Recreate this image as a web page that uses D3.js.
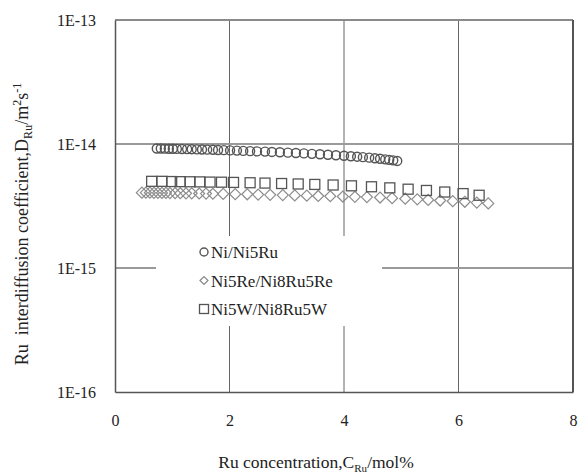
<!DOCTYPE html>
<html>
<head>
<meta charset="utf-8">
<script src="https://cdn.jsdelivr.net/npm/d3@7"></script>
<style>
  body { margin: 0; background: #fff; }
  svg { display: block; font-family: "Liberation Serif", "DejaVu Serif", serif; }
  svg text { font-family: "Liberation Serif", "DejaVu Serif", serif; }
</style>
</head>
<body>
<svg id="chart" width="578" height="473"></svg>
<script>
// Ni/Ni5Ru (circles)
var niX = [0.73,0.80,0.87,0.94,1.01,1.08,1.17,1.26,1.34,1.43,1.52,1.61,1.71,1.80,1.90,2.01,2.13,2.24,2.36,2.48,
           2.62,2.74,2.88,3.02,3.16,3.30,3.44,3.58,3.72,3.86,4.00,4.12,4.23,4.33,4.44,4.54,4.63,4.72,4.79,4.86,4.93];
var niD = [9.2,9.2,9.18,9.16,9.15,9.13,9.12,9.1,9.08,9.05,9.03,9.0,8.98,8.95,8.92,8.88,8.85,8.8,8.76,8.72,
           8.68,8.63,8.58,8.52,8.46,8.4,8.33,8.26,8.19,8.12,8.04,7.97,7.9,7.83,7.76,7.68,7.6,7.52,7.45,7.38,7.3];
// Ni5Re/Ni8Ru5Re (diamonds)
var reX = [0.47,0.54,0.61,0.68,0.75,0.82,0.89,0.96,1.05,1.14,1.24,1.34,1.47,1.59,1.71,1.89,2.10,2.31,2.50,
           2.71,2.93,3.14,3.35,3.55,3.76,3.98,4.19,4.40,4.63,4.84,5.07,5.28,5.47,5.68,5.90,6.11,6.32,6.52];
var reD = [4.05,4.05,4.05,4.04,4.04,4.03,4.03,4.02,4.02,4.01,4.0,4.0,3.99,3.98,3.97,3.96,3.94,3.93,3.91,
           3.89,3.87,3.85,3.83,3.81,3.79,3.77,3.75,3.73,3.7,3.66,3.62,3.58,3.54,3.5,3.46,3.42,3.37,3.32];
// Ni5W/Ni8Ru5W (squares)
var wX = [0.64,0.82,0.99,1.14,1.31,1.48,1.66,1.86,2.07,2.36,2.62,2.91,3.20,3.49,3.81,4.13,4.48,4.80,5.12,5.44,5.76,6.08,6.36];
var wD = [5.0,5.0,4.98,4.97,4.96,4.95,4.93,4.92,4.9,4.87,4.84,4.8,4.76,4.72,4.67,4.6,4.52,4.43,4.32,4.22,4.1,3.98,3.86];
var dUnit = 1e-15;

var xTicks = [0, 2, 4, 6, 8];
var yTicks = [1e-16, 1e-15, 1e-14, 1e-13];
var yTickLabels = ["1E-16", "1E-15", "1E-14", "1E-13"];
var seriesNames = ["Ni/Ni5Ru", "Ni5Re/Ni8Ru5Re", "Ni5W/Ni8Ru5W"];

var svg = d3.select("#chart");
var x = d3.scaleLinear().domain([0, 8]).range([115, 573]);
var y = d3.scaleLog().domain([1e-16, 1e-13]).range([392, 20]);

// grid
svg.append("g").selectAll("line").data(xTicks.slice(1, 4)).enter().append("line")
  .attr("x1", d => x(d)).attr("x2", d => x(d))
  .attr("y1", y(1e-13)).attr("y2", y(1e-16))
  .attr("stroke", "#666").attr("stroke-width", 1);
svg.append("g").selectAll("line").data(yTicks.slice(1, 3)).enter().append("line")
  .attr("x1", x(0)).attr("x2", x(8))
  .attr("y1", d => y(d)).attr("y2", d => y(d))
  .attr("stroke", "#9a9a9a").attr("stroke-width", 2);

// frame
svg.append("line").attr("x1", x(0)).attr("x2", x(8)).attr("y1", y(1e-13)).attr("y2", y(1e-13))
  .attr("stroke", "#8a8a8a").attr("stroke-width", 2);
svg.append("line").attr("x1", x(8)).attr("x2", x(8)).attr("y1", y(1e-13)).attr("y2", y(1e-16))
  .attr("stroke", "#555").attr("stroke-width", 2);

// axes
var xAxis = svg.append("g").attr("transform", "translate(0," + y(1e-16) + ")")
  .call(d3.axisBottom(x).tickValues(xTicks).tickSize(0).tickPadding(23).tickFormat(d3.format("d")));
var yAxis = svg.append("g").attr("transform", "translate(" + x(0) + ",0)")
  .call(d3.axisLeft(y).tickValues(yTicks).tickSize(0).tickPadding(19)
    .tickFormat((d, i) => yTickLabels[i]));
[xAxis, yAxis].forEach(function (a) {
  a.attr("font-family", null).attr("font-size", null);
  a.select(".domain").attr("stroke", "#555").attr("stroke-width", 1.5);
  a.selectAll("text").style("font-family", "'Liberation Serif', serif").style("font-size", "16px").attr("fill", "#222");
});

var stroke = ["#555", "#8c8c8c", "#555"];

// legend box (covers grid)
svg.append("rect").attr("x", 156).attr("y", 236).attr("width", 226).attr("height", 90).attr("fill", "#fff");

function drawMarker(g, type, cx, cy, s, col) {
  if (type === 0) {
    g.append("circle").attr("cx", cx).attr("cy", cy).attr("r", s)
      .attr("fill", "none").attr("stroke", col).attr("stroke-width", 1.4);
  } else if (type === 1) {
    g.append("path").attr("d", "M" + (cx - s) + "," + cy + "L" + cx + "," + (cy - s) + "L" + (cx + s) + "," + cy + "L" + cx + "," + (cy + s) + "Z")
      .attr("fill", "none").attr("stroke", col).attr("stroke-width", 1.2);
  } else {
    g.append("rect").attr("x", cx - s).attr("y", cy - s).attr("width", 2 * s).attr("height", 2 * s)
      .attr("fill", "none").attr("stroke", col).attr("stroke-width", 1.3);
  }
}

var series = [[niX, niD, 4.5], [reX, reD, 5.5], [wX, wD, 5]];
series.forEach(function (s, k) {
  var g = svg.append("g");
  s[0].forEach(function (xv, i) {
    drawMarker(g, k, x(xv), y(s[1][i] * dUnit), s[2], stroke[k]);
  });
});

// legend
var lg = svg.append("g");
seriesNames.forEach(function (name, i) {
  var cy = 252 + i * 28.5;
  drawMarker(lg, i, 204, cy, i === 2 ? 4.5 : 4, i === 1 ? "#888" : "#555");
  lg.append("text").attr("x", 211).attr("y", cy + 6).attr("font-size", 17).attr("fill", "#222").text(name);
});

// axis titles
var xt = svg.append("text").attr("x", 316).attr("y", 468).attr("text-anchor", "middle")
  .attr("font-size", 17.5).attr("fill", "#222");
xt.append("tspan").text("Ru concentration,C");
xt.append("tspan").attr("font-size", 11).attr("dy", 4).text("Ru");
xt.append("tspan").attr("dy", -4).text("/mol%");

var yt = svg.append("text").attr("transform", "translate(28,224) rotate(-90)").attr("text-anchor", "middle")
  .attr("font-size", 18).attr("fill", "#222").style("white-space", "pre");
yt.append("tspan").text("Ru  interdiffusion coefficient,D");
yt.append("tspan").attr("font-size", 12).attr("dy", 4).text("Ru");
yt.append("tspan").attr("dy", -4).text("/m");
yt.append("tspan").attr("font-size", 12).attr("dy", -7).text("2");
yt.append("tspan").attr("dy", 7).text("s");
yt.append("tspan").attr("font-size", 12).attr("dy", -7).text("-1");
</script>
</body>
</html>
